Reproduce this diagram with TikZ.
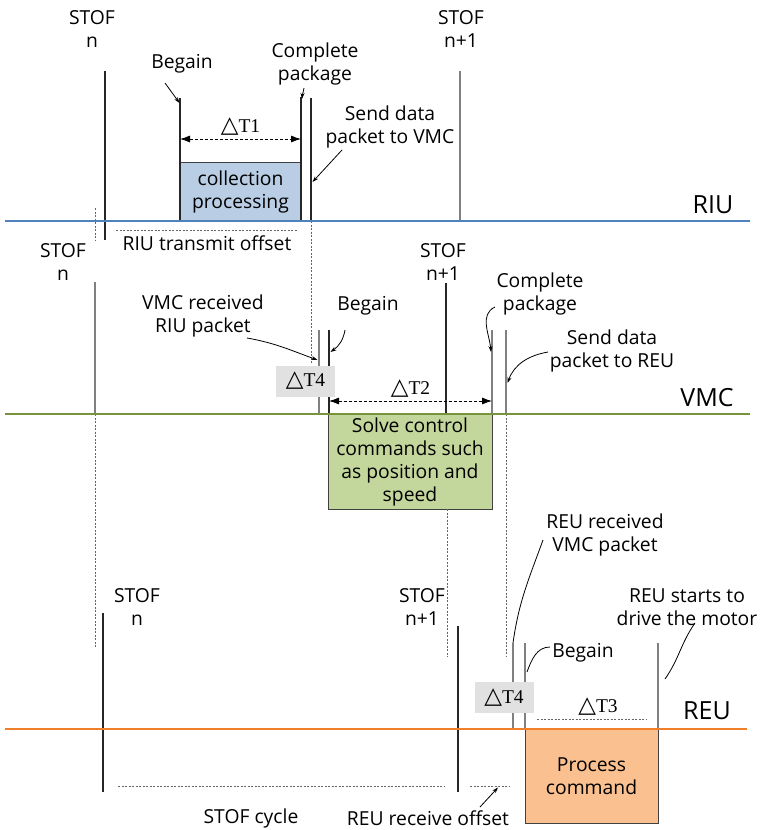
\documentclass[tikz,border=0pt]{standalone}
\usepackage{fontspec}
\setmainfont{Open Sans}
\newfontfamily\deltaserif{Liberation Serif}
\newfontfamily\trifont{DejaVu Sans}
\usetikzlibrary{arrows.meta}
\definecolor{riublue}{HTML}{4F81BD}
\definecolor{vmcgreen}{HTML}{77933C}
\definecolor{reuorange}{HTML}{F07F2A}
\definecolor{boxblue}{HTML}{B9CDE5}
\definecolor{boxgreen}{HTML}{C3D69B}
\definecolor{boxorange}{HTML}{FAC090}
\definecolor{tagfill}{HTML}{E1E1E1}
% interval label: triangle sign followed by a serif T and index
\newcommand\dT[1]{{\trifont\fontsize{23}{23}\selectfont △}{\deltaserif\fontsize{19.5}{19.5}\selectfont T#1}}
\begin{document}
\begin{tikzpicture}[x=1pt,y=-1pt,
  every node/.style={font=\fontsize{19.3}{23}\selectfont, inner sep=0pt, align=center},
  tick/.style={line width=1.4pt, draw=black!85},
  gtick/.style={line width=1.4pt, draw=black!50},
  guide/.style={line width=0.8pt, draw=black!60, dash pattern=on 2pt off 1.5pt},
  span/.style={line width=0.8pt, dash pattern=on 3pt off 2pt, {Latex[length=10pt,width=7pt]}-{Latex[length=10pt,width=7pt]}},
  callout/.style={line width=0.8pt, -{Stealth[length=6pt,width=4pt]}},
  leader/.style={line width=0.8pt},
  axis/.style={line width=2pt},
  lane/.style={font=\fontsize{25}{25}\selectfont},
  tag/.style={fill=tagfill, minimum width=59pt, minimum height=31pt},
  stage/.style={draw=black!75, line width=0.9pt}
]
\useasboundingbox (0,0) rectangle (760,830);

% ---------- RIU ----------
\node[stage, fill=boxblue, minimum width=121pt, minimum height=59pt] (collect) at (240.5,191.5) {collection\\processing};
\node (stofRa) at (92,29) {STOF\\n};
\node (stofRb) at (461,29) {STOF\\n+1};
\node (begR) at (182,64) {Begain};
\node (cplR) at (315,64) {Complete\\package};
\node (sendR) at (390,126.5) {Send data\\packet to VMC};
\node (offR) at (207,243) {RIU transmit offset};
\node[lane] (riu) at (713,205) {RIU};

\coordinate (rBeg) at (180,98);
\coordinate (rCpl) at (301,97);
\coordinate (rSend) at (311,98);
\draw[tick] (105,71) -- (105,240);
\draw[guide] (95,208) -- (95,240);
\draw[tick] (rBeg) -- (180,221);
\draw[tick] (rCpl) -- (301,221);
\draw[tick] (rSend) -- (311,221);
\draw[guide] (311,221) -- (311,363);
\draw[gtick] (460,71) -- (460,221);
\draw[span] (180,139) -- node[above=3pt] {\dT1} (301,139);
\draw[guide] (116,230) -- (297,230);

\draw[callout] (165,83) -- (179.5,103);
\draw[callout] (304,88) to[out=-100,in=85] (302,99);
\draw[callout] (342,150) -- (312.5,182);

\draw[axis, riublue] (5,221) -- (750,221);

% ---------- VMC ----------
\node[stage, fill=boxgreen, minimum width=164pt, minimum height=95pt] (solve) at (410,461.5) {Solve control\\commands such\\as position and\\speed};
\node (stofVa) at (63,261.5) {STOF\\n};
\node (stofVb) at (443,261.5) {STOF\\n+1};
\node (rcvV) at (203,315.5) {VMC received\\RIU packet};
\node (begV) at (368,306) {Begain};
\node (cplV) at (540,294) {Complete\\package};
\node (sendV) at (612,351) {Send data\\packet to REU};
\node[lane] (vmc) at (707,398) {VMC};

\draw[gtick] (95,282) -- (95,414);
\draw[guide] (95,414) -- (95,647);
\draw[gtick] (319,330) -- (319,414);
\draw[tick] (329,330) -- (329,414);
\draw[tick] (446,283) -- (446,414);
\draw[gtick] (492,330) -- (492,414);
\draw[gtick] (506,330) -- (506,414);
\draw[guide] (506,414) -- (506,657);
\draw[guide] (447,509) -- (447,657);
\draw[span] (329,401) -- node[above=3pt] {\dT2} (492,401);
\node[tag] (t4v) at (305.5,381) {\dT4};

\draw[callout] (247,338) to[out=-10,in=160] (317.5,360);
\draw[callout] (345,330) to[out=-100,in=35] (330.5,352);
\draw[callout] (495,307) to[out=205,in=95] (491,352);
\draw[callout] (548,352) to[out=190,in=70] (507.5,383);

\draw[axis, vmcgreen] (5,414) -- (750,414);

% ---------- REU ----------
\node[stage, fill=boxorange, minimum width=133pt, minimum height=94pt] (proc) at (591.5,776) {Process\\command};
\node (stofEa) at (137,607) {STOF\\n};
\node (stofEb) at (422,607) {STOF\\n+1};
\node (rcvE) at (605,535) {REU received\\VMC packet};
\node (begE) at (583,653) {Begain};
\node (drvE) at (687,607) {REU starts to\\drive the motor};
\node (t3e) at (598,707) {\dT3};
\node (cycE) at (251,818) {STOF cycle};
\node (offE) at (428,818) {REU receive offset};
\node[lane] (reu) at (707,711) {REU};

\draw[tick] (103,613) -- (103,792);
\draw[tick] (458,626) -- (458,792);
\draw[gtick] (513,643) -- (513,729);
\draw[gtick] (525,643) -- (525,729);
\draw[gtick] (658,643) -- (658,729);
\draw[guide] (537,719) -- (647,719);
\draw[guide] (118,786) -- (445,786);
\draw[guide] (470,786) -- (510,786);
\node[tag] (t4e) at (504,697.5) {\dT4};

\draw[leader] (543,540) to[out=-110,in=82] (513,643);
\draw[leader] (550,647) to[out=180,in=70] (527,672);
\draw[leader] (695,623) to[out=-125,in=55] (665,679);
\draw[callout] (480,807) -- (498,787.5);

\draw[axis, reuorange] (5,729) -- (747,729);
\end{tikzpicture}
\end{document}
